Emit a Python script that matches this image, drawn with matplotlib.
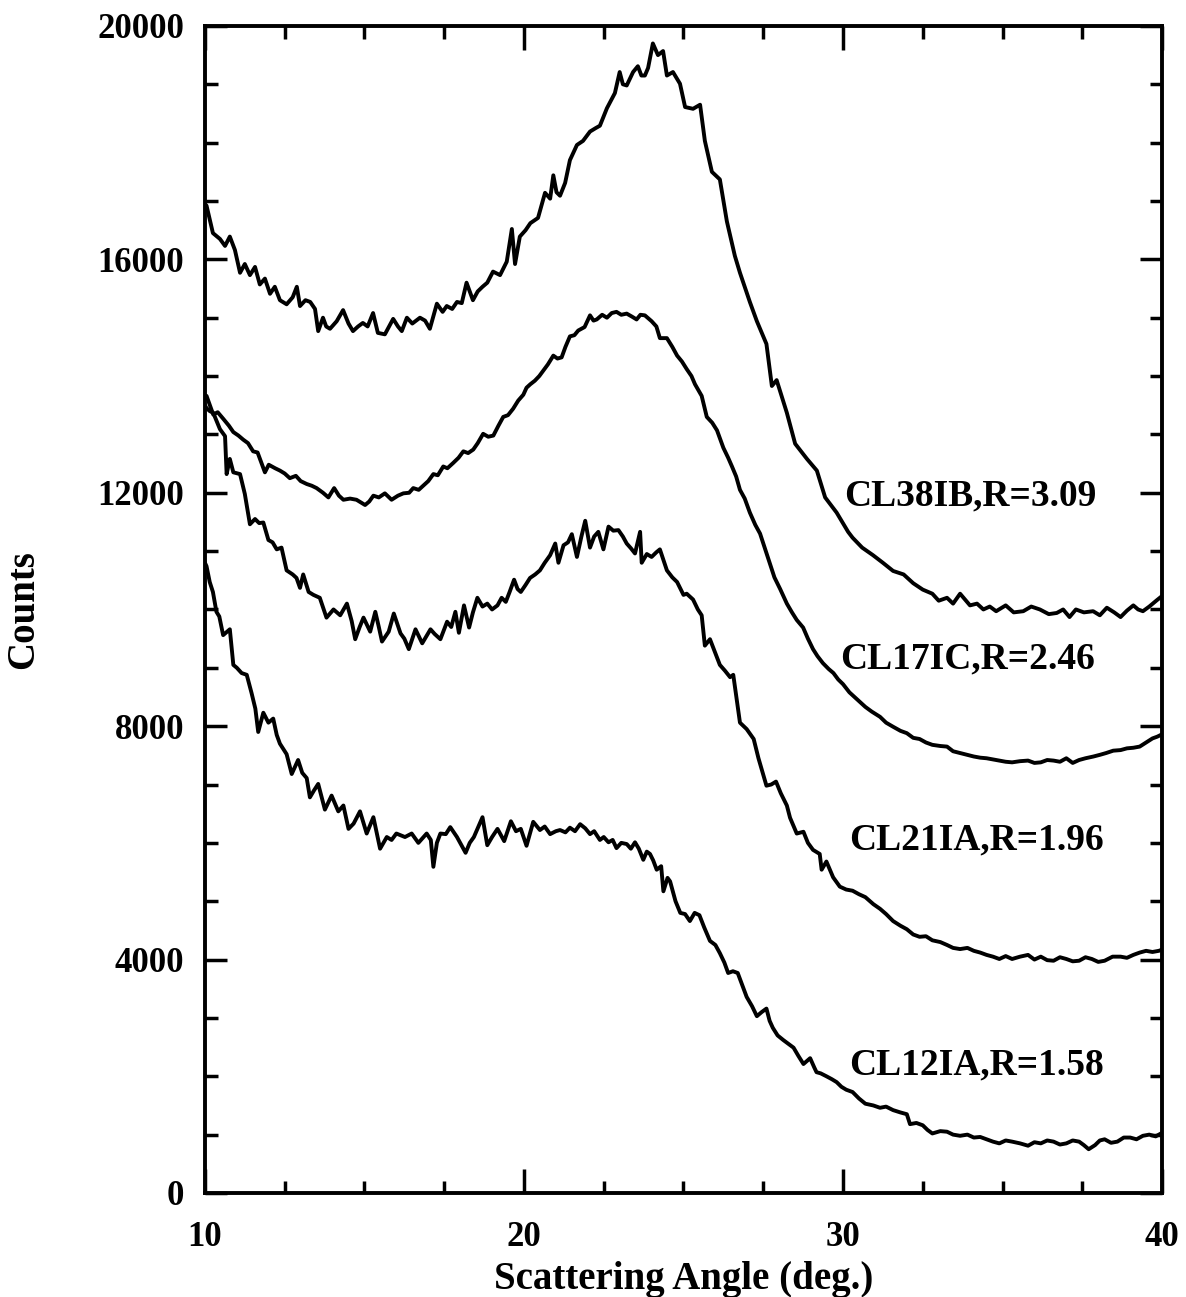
import numpy as np
import matplotlib.pyplot as plt
from matplotlib.ticker import MultipleLocator

# Valeurs (angle en degrés, coups)
angle_cl38ib = [10.0, 10.05, 10.25, 10.47, 10.63, 10.78, 10.94, 11.1, 11.25, 11.41, 11.57, 11.72, 11.88,
                12.04, 12.19, 12.35, 12.56, 12.75, 12.88, 12.98, 13.15, 13.3, 13.45, 13.55, 13.7, 13.8,
                13.92, 14.13, 14.33, 14.5, 14.64, 14.8, 14.95, 15.1, 15.27, 15.42, 15.64, 15.9, 16.05,
                16.17, 16.33, 16.5, 16.74, 16.9, 17.05, 17.27, 17.45, 17.58, 17.75, 17.9, 18.05, 18.2,
                18.4, 18.55, 18.7, 18.85, 19.03, 19.25, 19.46, 19.62, 19.72, 19.87, 20.05, 20.2, 20.44,
                20.66, 20.82, 20.92, 21.02, 21.13, 21.29, 21.44, 21.66, 21.85, 22.07, 22.25, 22.38,
                22.6, 22.85, 23.0, 23.1, 23.22, 23.42, 23.57, 23.68, 23.79, 23.89, 24.04, 24.2, 24.36,
                24.48, 24.67, 24.89, 25.05, 25.3, 25.52, 25.67, 25.89, 26.14, 26.36, 26.61, 26.77,
                27.08, 27.3, 27.6, 27.77, 27.92, 28.24, 28.5, 28.87, 29.18, 29.44, 29.8, 30.16, 30.3,
                30.6, 30.94, 31.25, 31.57, 31.9, 32.2, 32.5, 32.8, 33.0, 33.26, 33.45, 33.67, 33.98,
                34.2, 34.4, 34.6, 34.8, 35.1, 35.35, 35.65, 35.9, 36.17, 36.45, 36.7, 36.9, 37.1, 37.3,
                37.55, 37.84, 38.05, 38.27, 38.5, 38.7, 38.9, 39.1, 39.25, 39.4, 39.6, 39.84, 40.0]
counts_cl38ib = [16950, 16920, 16450, 16350, 16230, 16390, 16160, 15770, 15920, 15730, 15870, 15570, 15670,
                 15410, 15530, 15300, 15230, 15350, 15530, 15200, 15300, 15270, 15150, 14770, 15000, 14850,
                 14810, 14940, 15130, 14900, 14770, 14850, 14910, 14850, 15080, 14740, 14715, 14980, 14850,
                 14770, 15000, 14900, 15000, 14950, 14810, 15240, 15100, 15200, 15150, 15270, 15250, 15600,
                 15300, 15450, 15530, 15600, 15790, 15730, 15960, 16520, 15920, 16390, 16500, 16620, 16710,
                 17140, 17040, 17440, 17150, 17090, 17310, 17700, 17960, 18030, 18190, 18250, 18290,
                 18590, 18850, 19210, 19000, 18980, 19210, 19310, 19150, 19150, 19280, 19700, 19500, 19570,
                 19150, 19210, 19010, 18610, 18580, 18650, 18030, 17500, 17370, 16650, 16060, 15770,
                 15270, 14940, 14550, 13830, 13930, 13370, 12840, 12580, 12380, 11920, 11660, 11330, 11230,
                 11060, 10930, 10800, 10660, 10600, 10450, 10340, 10270, 10150, 10200, 10100, 10270, 10070,
                 10100, 10000, 10050, 9970, 10070, 9950, 9970, 10050, 10000, 9920, 9940, 10000, 9870, 10000,
                 9950, 9970, 9900, 10030, 9950, 9870, 9980, 10070, 10000, 9970, 10050, 10160, 10230]

angle_cl17ic = [10.0, 10.05, 10.26, 10.4, 10.57, 10.75, 10.89, 11.05, 11.2, 11.35, 11.51, 11.65, 11.88,
                12.0, 12.2, 12.35, 12.5, 12.66, 12.85, 13.0, 13.19, 13.35, 13.5, 13.7, 13.87, 14.05, 14.2,
                14.34, 14.55, 14.75, 15.02, 15.15, 15.28, 15.45, 15.64, 15.85, 16.05, 16.22, 16.4, 16.53,
                16.7, 16.84, 17.0, 17.16, 17.3, 17.47, 17.6, 17.78, 17.95, 18.1, 18.25, 18.41, 18.55,
                18.72, 18.88, 19.04, 19.2, 19.35, 19.5, 19.66, 19.82, 19.98, 20.08, 20.2, 20.34, 20.48,
                20.6, 20.75, 20.92, 21.05, 21.18, 21.3, 21.44, 21.58, 21.7, 21.9, 22.07, 22.18, 22.28,
                22.45, 22.6, 22.75, 22.9, 23.05, 23.22, 23.38, 23.53, 23.65, 23.79, 24.0, 24.15, 24.26,
                24.48, 24.65, 24.8, 24.95, 25.1, 25.25, 25.36, 25.57, 25.73, 25.9, 26.05, 26.25, 26.4,
                26.52, 26.65, 26.77, 26.92, 27.08, 27.25, 27.4, 27.55, 27.7, 27.85, 28.03, 28.24, 28.4,
                28.55, 28.75, 28.9, 29.06, 29.2, 29.37, 29.55, 29.7, 29.85, 30.0, 30.2, 30.4, 30.7, 30.9,
                31.16, 31.35, 31.57, 31.8, 32.0, 32.2, 32.4, 32.6, 32.8, 33.05, 33.26, 33.45, 33.67,
                33.9, 34.1, 34.3, 34.5, 34.7, 34.9, 35.1, 35.3, 35.55, 35.8, 36.0, 36.2, 36.4, 36.6, 36.8,
                37.0, 37.2, 37.4, 37.6, 37.85, 38.06, 38.25, 38.47, 38.7, 38.9, 39.1, 39.3, 39.5, 39.7,
                39.85, 40.0]
counts_cl17ic = [13650, 13660, 13340, 13380, 13270, 13150, 13040, 12980, 12910, 12850, 12710, 12690, 12350,
                 12480, 12420, 12380, 12330, 12250, 12290, 12200, 12150, 12120, 12080, 12000, 11920, 12080, 11950,
                 11880, 11900, 11880, 11790, 11850, 11950, 11920, 11990, 11880, 11950, 11990, 12000, 12080,
                 12050, 12120, 12200, 12320, 12300, 12450, 12420, 12510, 12600, 12710, 12680, 12740, 12850,
                 13010, 12960, 12980, 13150, 13300, 13330, 13440, 13580, 13680, 13800, 13860, 13920, 14000,
                 14090, 14200, 14350, 14300, 14320, 14500, 14680, 14700, 14780, 14840, 15040, 14950, 14970,
                 15050, 15000, 15080, 15100, 15050, 15070, 15020, 14970, 15050, 15040, 14940, 14850, 14650,
                 14650, 14500, 14350, 14250, 14120, 14000, 13860, 13660, 13300, 13200, 13070, 12770, 12600,
                 12450, 12280, 12050, 11900, 11660, 11450, 11300, 11050, 10800, 10550, 10350, 10100, 9950,
                 9820, 9690, 9500, 9320, 9200, 9080, 8980, 8910, 8800, 8720, 8580, 8480, 8330, 8250,
                 8160, 8060, 7990, 7920, 7880, 7800, 7780, 7720, 7680, 7660, 7650, 7570, 7540,
                 7510, 7480, 7460, 7450, 7430, 7410, 7390, 7380, 7400, 7410, 7370, 7380, 7420, 7410, 7390,
                 7450, 7370, 7420, 7450, 7480, 7510, 7540, 7580, 7590, 7620, 7630, 7650, 7720, 7790,
                 7820, 7860]

angle_cl21ia = [10.0, 10.05, 10.15, 10.26, 10.47, 10.63, 10.68, 10.78, 10.89, 11.1, 11.25, 11.41, 11.57,
                11.7, 11.83, 11.99, 12.12, 12.25, 12.4, 12.56, 12.75, 12.87, 12.98, 13.08, 13.25, 13.4,
                13.6, 13.81, 14.03, 14.24, 14.45, 14.6, 14.71, 14.85, 14.97, 15.18, 15.34, 15.45, 15.55,
                15.76, 15.92, 16.13, 16.25, 16.39, 16.6, 16.81, 16.95, 17.07, 17.2, 17.38, 17.59, 17.72,
                17.85, 17.96, 18.12, 18.28, 18.4, 18.54, 18.7, 18.85, 19.0, 19.17, 19.3, 19.43, 19.55,
                19.69, 19.8, 19.9, 20.05, 20.19, 20.35, 20.5, 20.65, 20.82, 20.98, 21.08, 21.24, 21.38,
                21.5, 21.66, 21.8, 21.92, 22.07, 22.2, 22.33, 22.49, 22.65, 22.8, 22.96, 23.1, 23.22,
                23.35, 23.48, 23.64, 23.69, 23.85, 24.0, 24.15, 24.26, 24.48, 24.65, 24.8, 25.0, 25.1,
                25.3, 25.45, 25.57, 25.67, 25.83, 26.0, 26.14, 26.3, 26.46, 26.56, 26.77, 26.98, 27.2,
                27.35, 27.6, 27.75, 27.9, 28.05, 28.24, 28.34, 28.55, 28.76, 28.9, 29.06, 29.27, 29.33,
                29.48, 29.69, 29.9, 30.1, 30.3, 30.5, 30.7, 30.95, 31.16, 31.35, 31.57, 31.8, 32.0, 32.2,
                32.4, 32.6, 32.8, 33.05, 33.26, 33.45, 33.67, 33.9, 34.1, 34.3, 34.5, 34.7, 34.9, 35.1,
                35.3, 35.55, 35.8, 36.0, 36.2, 36.4, 36.6, 36.8, 37.0, 37.2, 37.4, 37.6, 37.8, 38.0,
                38.2, 38.45, 38.7, 38.9, 39.1, 39.3, 39.5, 39.7, 39.9, 40.0]
counts_cl21ia = [13500, 13450, 13400, 13370, 13090, 12970, 12320, 12580, 12350, 12320, 11980, 11460, 11550,
                 11480, 11490, 11190, 11150, 11030, 11060, 10670, 10600, 10540, 10370, 10600, 10300, 10250,
                 10200, 9860, 10000, 9900, 10100, 9800, 9490, 9700, 9860, 9620, 9960, 9700, 9450,
                 9620, 9930, 9590, 9500, 9320, 9660, 9420, 9550, 9660, 9580, 9490, 9790, 9700,
                 9960, 9600, 10070, 9690, 9950, 10200, 10050, 10100, 10000, 10070, 10200, 10130, 10300,
                 10510, 10350, 10300, 10420, 10540, 10600, 10670, 10800, 10930, 11130, 10800, 11100, 11150,
                 11290, 10900, 11250, 11520, 11060, 11250, 11330, 11030, 11420, 11350, 11360, 11250, 11130,
                 11050, 10960, 11330, 10800, 10950, 10900, 10980, 11030, 10670, 10550, 10470, 10250, 10270,
                 10170, 10000, 9900, 9380, 9490, 9250, 9050, 8950, 8840, 8880, 8060, 7950, 7780,
                 7450, 6980, 7000, 7050, 6850, 6640, 6430, 6160, 6190, 6000, 5880, 5810, 5540,
                 5680, 5410, 5250, 5200, 5180, 5120, 5070, 4950, 4870, 4780, 4660, 4580, 4520, 4430,
                 4390, 4400, 4330, 4300, 4250, 4200, 4180, 4200, 4150, 4120, 4080, 4050, 4010, 4060,
                 4010, 4050, 4080, 4000, 4050, 3990, 3980, 4040, 4010, 3970, 3980, 4040, 4010, 3960,
                 3980, 4050, 4050, 4030, 4080, 4120, 4150, 4130, 4150, 4170]

angle_cl12ia = [10.0, 10.05, 10.15, 10.25, 10.36, 10.45, 10.57, 10.78, 10.89, 11.0, 11.15, 11.31, 11.46,
                11.58, 11.67, 11.83, 11.99, 12.14, 12.25, 12.35, 12.56, 12.72, 12.92, 13.05, 13.19, 13.29,
                13.42, 13.55, 13.76, 13.97, 14.18, 14.34, 14.5, 14.66, 14.86, 15.07, 15.28, 15.49, 15.7,
                15.85, 16.0, 16.27, 16.48, 16.69, 16.95, 17.08, 17.16, 17.27, 17.38, 17.55, 17.69, 17.9,
                18.17, 18.3, 18.43, 18.7, 18.85, 19.0, 19.17, 19.38, 19.59, 19.75, 19.9, 20.08, 20.29,
                20.5, 20.65, 20.82, 21.0, 21.13, 21.3, 21.44, 21.6, 21.76, 21.92, 22.07, 22.2, 22.38,
                22.5, 22.65, 22.78, 22.9, 23.05, 23.22, 23.35, 23.48, 23.6, 23.74, 23.85, 23.95, 24.05,
                24.16, 24.3, 24.37, 24.5, 24.58, 24.75, 24.9, 25.05, 25.2, 25.35, 25.5, 25.65, 25.83,
                26.0, 26.14, 26.28, 26.4, 26.55, 26.7, 26.85, 26.98, 27.15, 27.3, 27.45, 27.6, 27.7,
                27.8, 27.95, 28.13, 28.3, 28.45, 28.6, 28.76, 28.97, 29.1, 29.17, 29.3, 29.48, 29.65,
                29.8, 29.95, 30.1, 30.3, 30.5, 30.7, 30.95, 31.16, 31.35, 31.57, 31.8, 32.0, 32.1, 32.3,
                32.5, 32.65, 32.8, 33.05, 33.26, 33.45, 33.67, 33.9, 34.1, 34.3, 34.5, 34.7, 34.9, 35.1,
                35.3, 35.55, 35.8, 36.0, 36.2, 36.4, 36.6, 36.8, 37.0, 37.2, 37.4, 37.55, 37.7, 37.9,
                38.05, 38.2, 38.4, 38.6, 38.8, 39.0, 39.2, 39.4, 39.6, 39.8, 40.0]
counts_cl12ia = [10800, 10740, 10470, 10300, 9960, 9880, 9560, 9660, 9050, 9000, 8910, 8880, 8570,
                 8300, 7900, 8230, 8060, 8130, 7850, 7700, 7520, 7180, 7420, 7200, 7110, 6780,
                 6900, 7010, 6570, 6810, 6540, 6640, 6240, 6330, 6540, 6160, 6440, 5900, 6100,
                 6050, 6160, 6100, 6160, 6000, 6160, 6050, 5590, 6000, 6160, 6150, 6270, 6100,
                 5830, 6000, 6100, 6440, 5960, 6100, 6240, 6030, 6370, 6200, 6240, 5950, 6360,
                 6220, 6280, 6150, 6200, 6220, 6180, 6260, 6200, 6320, 6250, 6150, 6200, 6050,
                 6100, 6010, 6050, 5910, 6000, 5980, 5900, 6010, 5900, 5710, 5850, 5810, 5700,
                 5540, 5600, 5170, 5400, 5340, 5000, 4800, 4780, 4660, 4800, 4760, 4550, 4320,
                 4250, 4110, 3950, 3770, 3800, 3770, 3550, 3360, 3200, 3030, 3100, 3160, 2950,
                 2830, 2700, 2620, 2550, 2490, 2350, 2210, 2310, 2150, 2070, 2050, 2000, 1950,
                 1900, 1820, 1770, 1730, 1620, 1530, 1500, 1460, 1480, 1420, 1380, 1350, 1180, 1200,
                 1160, 1080, 1020, 1060, 1050, 1000, 980, 1000, 950, 960, 920, 880, 850, 900,
                 880, 850, 810, 870, 850, 900, 880, 830, 850, 900, 880, 820, 750, 820,
                 900, 920, 860, 880, 950, 950, 920, 980, 1000, 970, 1030]

sample_labels = ["CL38IB,R=3.09", "CL17IC,R=2.46", "CL21IA,R=1.96", "CL12IA,R=1.58"]
label_x = [30.05, 29.9, 30.2, 30.2]
label_y = [11950, 9150, 6050, 2200]

plt.rcParams["font.family"] = ["Liberation Serif", "DejaVu Serif"]
plt.rcParams["font.weight"] = "bold"

fig = plt.figure(figsize=(11.86, 12.97), dpi=100)
ax = fig.add_axes([0.1728, 0.0802, 0.807, 0.8998])

for a, c in [(angle_cl38ib, counts_cl38ib), (angle_cl17ic, counts_cl17ic),
             (angle_cl21ia, counts_cl21ia), (angle_cl12ia, counts_cl12ia)]:
    ax.plot(a, c, color="black", lw=2.8)

# Étiquettes des échantillons
for txt, x, y in zip(sample_labels, label_x, label_y):
    ax.text(x, y, txt, fontsize=27, fontweight="bold", ha="left", va="center")

ax.set_xlim(10, 40)
ax.set_ylim(0, 20000)
ax.xaxis.set_major_locator(MultipleLocator(10))
ax.xaxis.set_minor_locator(MultipleLocator(2.5))
ax.yaxis.set_major_locator(MultipleLocator(4000))
ax.yaxis.set_minor_locator(MultipleLocator(1000))

ax.tick_params(which="both", direction="in", top=True, right=True, width=2.5,
               labelsize=25)
ax.tick_params(axis="x", which="major", length=17, pad=20)
ax.tick_params(axis="x", which="minor", length=9)
ax.tick_params(axis="y", which="major", length=16, pad=15)
ax.tick_params(axis="y", which="minor", length=9)
for lab in ax.get_xticklabels() + ax.get_yticklabels():
    lab.set_fontweight("bold")

for sp in ax.spines.values():
    sp.set_linewidth(2.8)

ax.set_xlabel("Scattering Angle (deg.)", fontsize=28, fontweight="bold")
ax.xaxis.set_label_coords(0.5, -0.058)
ax.xaxis.label.set_va("top")
ax.set_ylabel("Counts", fontsize=28, fontweight="bold")
ax.yaxis.set_label_coords(-0.17, 0.5)

fig.savefig("out.png", dpi=100)
